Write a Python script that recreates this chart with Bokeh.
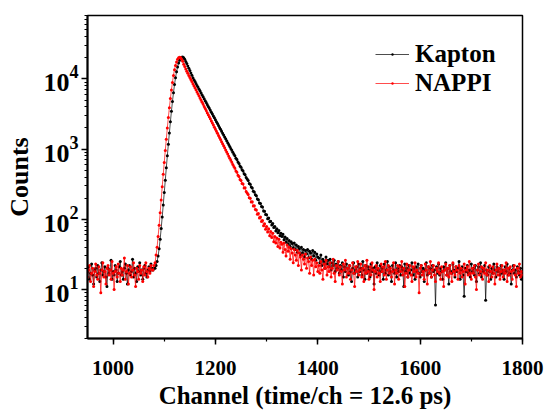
import numpy as np
from bokeh.plotting import figure
from bokeh.models import LogTicker, SingleIntervalTicker, Range1d, Legend, LegendItem
from bokeh.embed import file_html
from bokeh.resources import INLINE

# ---- data (counts per channel; every 2nd channel) ----
pulse_start = 1078  # first channel of the pulse segment

kapton_left = [18,21,14,17,23,16,12,19,20,15, 22,17,13,19,24,16,18,21,15,11,
               20,17,19,26,14,18,16,22,19,13, 17,21,25,16,18,14,20,23,17,12,
               19,22,16,18,27,15,20,17,13,21, 18,24,16,19,14,20,22,17,15,19,
               21,18,23,20]
kapton_pulse = [19,20,20,22,25,30,38,52,74,108,
                160,240,360,540,800,1170,1700,2450,3450,4750,
                6350,8300,10400,12600,14800,16800,18500,19700,20400,20500,
                20000,19000,17700,16500,15300,14200,13150,12150,11250,10400,
                9745,9150,8595,8075,7585,7125,6695,6285,5905,5545,
                5210,4895,4595,4315,4055,3810,3580,3360,3155,2965,
                2785,2615,2455,2307,2167,2036,1913,1796,1687,1585,
                1489,1399,1313,1234,1159,1089,1023,960,902,847,
                801,741,708,652,625,576,553,506,489,446,
                431,394,376,358,324,316,287,279,251,244,
                224,216,195,190,171,168,152,149,131,130,
                117,116,102,104,92,94,83,87,76,79,
                68,73,64,69,58,63,57,61,51,56,
                47,53,44,50,41,48,45,39,46,37,
                43,34,41,38,31,40,33,37,29,36,
                32,37,28,35,33,27,36,30,34,26,
                32,29]
kapton_tail = [28,24,31,22,27,25,20,29,23,26, 21,27,19,24,22,26,18,23,20,25,
               17,22,19,24,15,21,18,23,20,16, 22,18,13,20,24,17,19,21,15,23,
               18,20,16,25,19,14,22,17,21,19, 15,23,18,20,12,21,17,24,19,16,
               22,18,20,14,23,17,19,25,16,21, 18,13,22,19,17,24,15,20,18,22,
               16,21,19,11,23,18,20,15,22,17, 19,24,16,20,14,21,18,23,17,15,
               22,18,20,13,19,24,16,21,17,20, 15,22,18,19,6,21,17,23,16,20,
               18,14,21,19,24,16,20,12,22,18, 17,23,19,15,21,18,20,25,14,19,
               21,16,8,20,18,22,17,19,15,23, 18,20,16,22,13,19,21,17,24,15,
               20,18,22,7,19,16,21,18,14,20, 17,23,19,15,21,18,20,16,22,17,
               19,14,21,18,23,16,20,17,12,19, 22,17,19,15,21,18,16,20,14,18]

nappi_left = [15,19,22,13,17,20,11,18,23,16, 14,21,17,9,19,24,15,18,12,20,
              22,16,19,14,25,17,10,18,21,15, 23,17,13,20,16,19,28,14,18,22,
              12,17,21,15,19,24,16,11,20,18, 14,22,17,19,13,21,16,24,18,15,
              20,17,22,19]
nappi_pulse = [19,22,24,31,40,57,82,124,188,290,
               436,645,955,1380,2000,2820,3890,5250,6920,8910,
               11200,13500,15500,17400,19100,20000,20400,20200,19000,17800,
               16200,14960,13800,12880,12020,11220,10480,9795,9150,8550,
               7990,7465,6975,6515,6090,5690,5315,4965,4640,4335,
               4050,3785,3535,3305,3087,2885,2695,2518,2352,2198,
               2054,1919,1793,1675,1565,1462,1366,1276,1193,1114,
               1041,973,909,849,793,741,693,647,605,565,
               533,487,466,425,408,369,356,322,318,279,
               281,248,236,225,203,199,176,178,155,156,
               138,136,118,121,104,108,93,96,81,86,
               72,79,66,73,58,67,55,63,48,57,
               46,54,41,52,39,47,44,34,46,37,
               30,43,35,40,27,38,33,24,37,31,
               26,36,22,33,29,19,31,27,23,32,
               20,28,25,17,29,22,26,16,27,21,
               24,18]
nappi_tail = [22,17,25,19,14,23,20,26,16,21, 18,24,15,20,27,17,13,22,19,25,
              16,21,18,12,23,19,26,15,20,17, 22,14,19,24,17,11,21,18,25,16,
              19,23,15,20,13,22,17,26,18,14, 21,16,24,19,10,18,22,15,20,17,
              13,23,18,21,16,25,14,19,22,17, 20,15,18,24,12,19,17,22,14,21,
              18,25,16,20,11,17,23,15,19,22, 16,13,21,18,24,15,19,17,9,20,
              22,16,18,14,23,19,12,21,17,25, 15,19,22,16,13,20,18,24,17,14,
              21,18,11,19,23,16,20,15,22,17, 13,24,18,16,21,19,14,22,17,20,
              15,18,23,12,19,21,16,25,17,14, 20,17,22,15,10,19,23,16,18,21,
              14,20,17,24,16,19,13,22,18,15, 21,17,12,19,23,16,20,14,18,22,
              15,19,17,24,13,20,16,21,18,14, 19,22,16,11,20,17,23,15,18,16]


def series(left, pulse, tail):
    xl = pulse_start - 2 * len(left) + 2 * np.arange(len(left))
    xp = pulse_start + 2 * np.arange(len(pulse))
    xt = xp[-1] + 2 + 2 * np.arange(len(tail))
    x = np.concatenate([xl, xp, xt])
    y = np.array(left + pulse + tail, dtype=float)
    return x, y


kx, ky = series(kapton_left, kapton_pulse, kapton_tail)
nx, ny = series(nappi_left, nappi_pulse, nappi_tail)

FONT = "Liberation Serif"

p = figure(width=548, height=411, y_axis_type="log",
           x_range=Range1d(950, 1800), y_range=Range1d(2, 8e4),
           output_backend="svg", toolbar_location=None,
           min_border_left=87, min_border_right=26,
           min_border_top=15, min_border_bottom=71)

p.background_fill_color = "white"
p.border_fill_color = "white"
p.outline_line_color = "black"
p.outline_line_width = 1.5
p.xgrid.visible = False
p.ygrid.visible = False

kl = p.line(kx, ky, line_color="black", line_width=0.7)
ks = p.scatter(kx, ky, marker="dot", size=12, line_color="black")
nl = p.line(nx, ny, line_color="red", line_width=0.7)
ns = p.scatter(nx, ny, marker="dot", size=12, line_color="red")

legend = Legend(items=[LegendItem(label="Kapton", renderers=[kl, ks]),
                       LegendItem(label="NAPPI", renderers=[nl, ns])],
                location=(288, 241))
legend.label_text_font = FONT
legend.label_text_font_style = "bold"
legend.label_text_font_size = "25px"
legend.label_text_color = "black"
legend.border_line_alpha = 0
legend.background_fill_alpha = 0
legend.padding = 0
legend.margin = 0
legend.spacing = 1
legend.glyph_width = 34
legend.glyph_height = 24
legend.label_height = 24
legend.label_standoff = 6
p.add_layout(legend, "center")

p.xaxis.ticker = SingleIntervalTicker(interval=200, num_minor_ticks=2)
p.yaxis.ticker = LogTicker(num_minor_ticks=10)

for ax in (p.xaxis[0], p.yaxis[0]):
    ax.axis_line_width = 2
    ax.axis_line_color = "black"
    ax.major_tick_line_width = 1.5
    ax.minor_tick_line_width = 1.2
    ax.major_tick_in = 0
    ax.minor_tick_in = 0
    ax.major_tick_out = 6
    ax.minor_tick_out = 3
    ax.major_label_text_font = FONT
    ax.major_label_text_font_style = "bold"
    ax.major_label_text_color = "black"
    ax.axis_label_text_font = FONT
    ax.axis_label_text_font_style = "bold"
    ax.axis_label_text_color = "black"

p.xaxis.axis_label = "Channel (time/ch = 12.6 ps)"
p.xaxis.major_label_text_font_size = "21px"
p.xaxis.axis_label_text_font_size = "25px"
p.xaxis.major_label_standoff = 16
p.xaxis.axis_label_standoff = 4

p.yaxis.axis_label = "Counts"
p.yaxis.major_label_text_font_size = "26px"
p.yaxis.axis_label_text_font_size = "26px"
p.yaxis.major_label_standoff = 3
p.yaxis.axis_label_standoff = 6

open("out.html", "w").write(file_html(p, INLINE))
